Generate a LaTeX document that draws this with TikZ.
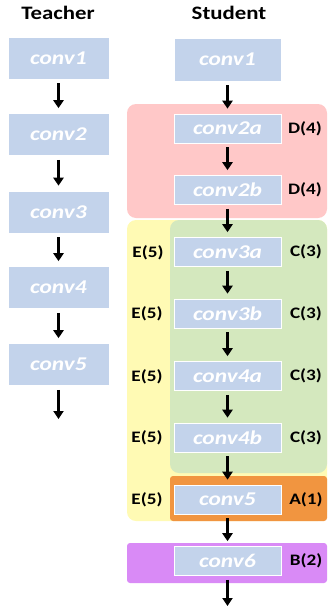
\documentclass[tikz,border=0pt]{standalone}
\usepackage{fontspec}
\setmainfont[FakeStretch=1.2]{Carlito}
\usetikzlibrary{arrows.meta}
\definecolor{boxblue}{HTML}{C3D3EB}
\definecolor{rpink}{HTML}{FFC8C8}
\definecolor{ryellow}{HTML}{FFFAB4}
\definecolor{rgreen}{HTML}{D4E8BE}
\definecolor{rorange}{HTML}{F19540}
\definecolor{rpurple}{HTML}{D98AF6}
\begin{document}
\begin{tikzpicture}[x=1pt,y=-1pt,
  bigbox/.style={fill=boxblue,draw=white,line width=0.6pt,minimum width=101pt,minimum height=42pt,inner sep=0pt,
    font=\fontsize{19.5}{22}\selectfont\bfseries\itshape,text=white},
  sbox/.style={fill=boxblue,draw=white,line width=0.6pt,minimum width=107pt,minimum height=29pt,inner sep=0pt,
    font=\fontsize{19.5}{22}\selectfont\bfseries\itshape,text=white},
  title/.style={font=\fontsize{19}{21}\selectfont\bfseries},
  lab/.style={font=\fontsize{16}{18}\selectfont\bfseries},
  arr/.style={line width=2.4pt,-{Triangle[length=8pt,width=10pt]},shorten <=4pt,shorten >=5pt},
  region/.style={rounded corners=9pt}]
\useasboundingbox (0,0) rectangle (327,608);
% regions
\fill[rpink,region] (127,104) rectangle (327,218);
\fill[ryellow,region] (127,220) rectangle (327,521);
\fill[rgreen,region] (170,220) rectangle (327,473);
\fill[rorange,rounded corners=3pt] (170,476) rectangle (327,521);
\fill[rpurple,rounded corners=3pt] (127,543) rectangle (327,583);
% titles
\node[title] (tt) at (58,13) {Teacher};
\node[title] (st) at (229,13) {Student};
% teacher
\node[bigbox] (t1) at (58.5,58) {conv1};
\node[bigbox] (t2) at (58.5,134.5) {conv2};
\node[bigbox] (t3) at (58.5,212) {conv3};
\node[bigbox] (t4) at (58.5,287.5) {conv4};
\node[bigbox] (t5) at (58.5,364.5) {conv5};
\coordinate (tend) at (58.5,419);
\draw[arr] (t1) -- (t2);
\draw[arr] (t2) -- (t3);
\draw[arr] (t3) -- (t4);
\draw[arr] (t4) -- (t5);
\draw[arr,shorten >=0pt] (t5) -- (tend);
% student
\node[bigbox,minimum width=107pt,minimum height=43pt] (s1) at (227.5,59.5) {conv1};
\node[sbox] (s2a) at (227.5,128.5) {conv2a};
\node[sbox] (s2b) at (227.5,190) {conv2b};
\node[sbox] (s3a) at (227.5,252) {conv3a};
\node[sbox] (s3b) at (227.5,313.5) {conv3b};
\node[sbox] (s4a) at (227.5,376) {conv4a};
\node[sbox] (s4b) at (227.5,437.5) {conv4b};
\node[sbox] (s5) at (227.5,499.5) {conv5};
\node[sbox] (s6) at (227.5,561) {conv6};
\coordinate (send) at (227.5,606);
\draw[arr] (s1) -- (s2a);
\draw[arr] (s2a) -- (s2b);
\draw[arr] (s2b) -- (s3a);
\draw[arr] (s3a) -- (s3b);
\draw[arr] (s3b) -- (s4a);
\draw[arr] (s4a) -- (s4b);
\draw[arr] (s4b) -- (s5);
\draw[arr] (s5) -- (s6);
\draw[arr,shorten >=0pt] (s6) -- (send);
% labels
\node[lab] (d1) at (305,128.5) {D(4)};
\node[lab] (d2) at (305,190) {D(4)};
\node[lab] (c1) at (306,252) {C(3)};
\node[lab] (c2) at (306,313.5) {C(3)};
\node[lab] (c3) at (306,376) {C(3)};
\node[lab] (c4) at (306,437.5) {C(3)};
\node[lab] (a1) at (306,499.5) {A(1)};
\node[lab] (b2) at (306,561) {B(2)};
\node[lab] (e1) at (148,253) {E(5)};
\node[lab] (e2) at (147,314) {E(5)};
\node[lab] (e3) at (147,377) {E(5)};
\node[lab] (e4) at (147,438) {E(5)};
\node[lab] (e5) at (147,500) {E(5)};
\end{tikzpicture}
\end{document}
